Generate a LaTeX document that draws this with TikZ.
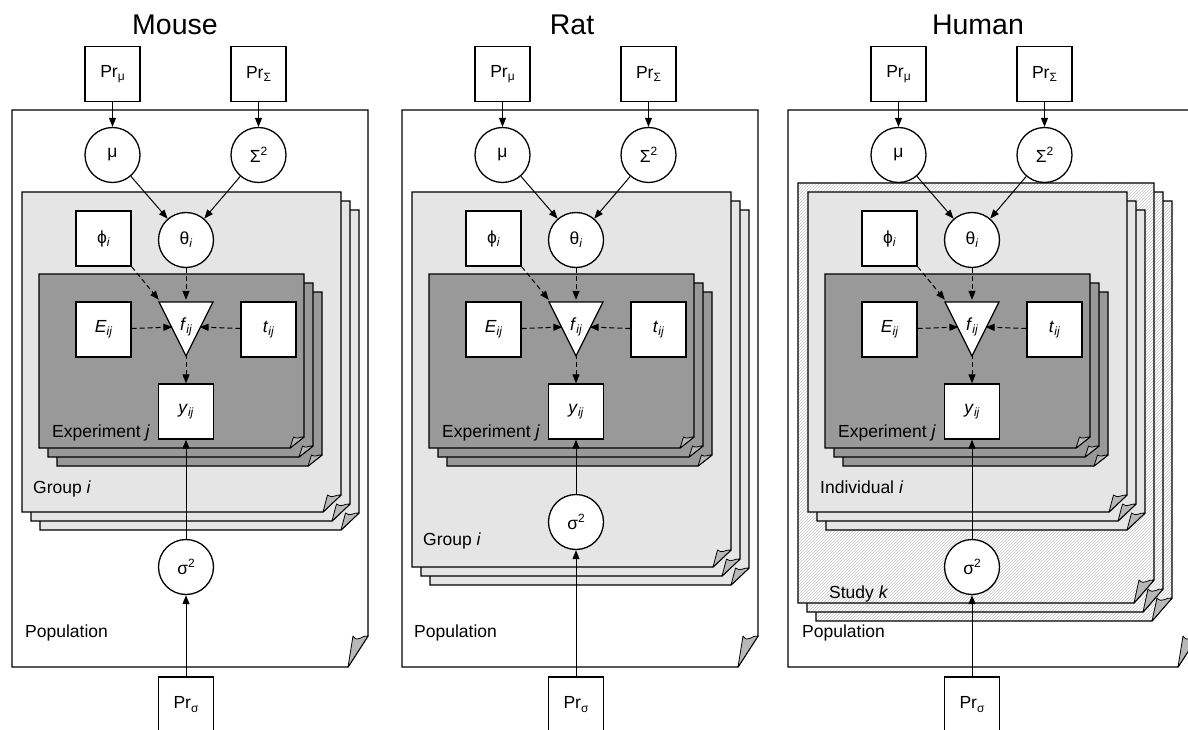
\documentclass[tikz,border=0pt]{standalone}
\usepackage{fontspec}
\setmainfont{Liberation Sans}
\usetikzlibrary{arrows.meta,calc,patterns}

\definecolor{grp}{gray}{0.9}
\definecolor{expt}{gray}{0.6}
\definecolor{flapc}{gray}{0.72}

\newcommand{\lbl}{\fontsize{17.5}{21}\selectfont}
\newcommand{\lo}[1]{\raisebox{-0.35ex}{\fontsize{12}{12}\selectfont #1}}
\newcommand{\hi}[1]{\raisebox{0.75ex}{\fontsize{12}{12}\selectfont #1}}

% one page of a plate, corner turned over at the bottom right
\newcommand{\pagebox}[7]{%
  \draw[plate,#5] (#1,#2) -- (#3,#2) -- (#3,#4-#7) -- (#3-#6,#4) -- (#1,#4) -- cycle;
  \draw[flap] (#3-#6,#4) -- (#3-0.75*#6,#4-#7)
    .. controls (#3-0.5*#6,#4-0.75*#7) and (#3-0.3*#6,#4-1.05*#7) .. (#3,#4-#7) -- cycle;
}
% three pages, back to front
\newcommand{\pagestack}[7]{%
  \foreach \sk in {18,9,0}{\pagebox{#1+\sk}{#2+\sk}{#3+\sk}{#4+\sk}{#5}{#6}{#7}}%
}

\begin{document}
\begin{tikzpicture}[
    x=1pt, y=-1pt,
    plate/.style={draw, line width=1.3pt},
    flap/.style={draw, fill=flapc, line width=0.8pt, line join=round},
    hatch/.style={preaction={fill=white}, pattern=north east lines, pattern color=black!22},
    var/.style={circle, draw, fill=white, line width=1.3pt, minimum size=55pt, inner sep=0pt, font=\lbl},
    obs/.style={rectangle, draw, fill=white, line width=1.3pt, minimum width=55pt, minimum height=55pt, inner sep=0pt, font=\lbl},
    fun/.style={minimum width=54pt, minimum height=54pt, inner sep=0pt, font=\lbl},
    arr/.style={-{Triangle[length=9pt,width=7pt]}, line width=1pt},
    dep/.style={arr, dash pattern=on 5pt off 3pt},
    lab/.style={anchor=base west, inner sep=0pt, font=\lbl},
    title/.style={font=\fontsize{28.5}{34}\selectfont}
]
\clip (0,0) rectangle (1188,730);

% populations
\pagebox{12}{110}{368}{667}{fill=white}{20}{31}
\pagebox{402}{110}{758}{667}{fill=white}{20}{31}
\pagebox{788}{110}{1198}{667}{fill=white}{20}{31}

% studies (human only)
\pagestack{798}{183}{1154}{603}{hatch}{20}{23}

% groups / individuals
\pagestack{22}{192}{341}{512}{fill=grp}{18}{17}
\pagestack{412}{192}{731}{567}{fill=grp}{18}{17}
\pagestack{808}{192}{1127}{512}{fill=grp}{18}{17}

% experiments
\foreach \dx in {0,390,786}{\pagestack{39+\dx}{274}{304+\dx}{448}{fill=expt}{14}{11}}

% titles
\node[title] (tM) at (175,25) {Mouse};
\node[title] (tR) at (572,25) {Rat};
\node[title] (tH) at (978,25) {Human};

% plate labels
\node[lab] (eM) at (52,437) {Experiment \textit{j}};
\node[lab] (eR) at (442,437) {Experiment \textit{j}};
\node[lab] (eH) at (838,437) {Experiment \textit{j}};
\node[lab] (gM) at (33,493) {Group \textit{i}};
\node[lab] (gR) at (423,545) {Group \textit{i}};
\node[lab] (iH) at (820,493) {Individual \textit{i}};
\node[lab] (sH) at (829,598) {Study \textit{k}};
\node[lab] (pM) at (25,637) {Population};
\node[lab] (pR) at (414,637) {Population};
\node[lab] (pH) at (802,637) {Population};

% the same graph in each panel
\foreach \dx/\s/\sy in {0/M/567, 390/R/522, 786/H/567}{
  \begin{scope}[xshift=\dx]
    \node[obs] (Pm\s) at (112.5,74) {Pr\lo{μ}};
    \node[obs] (PS\s) at (258.5,74) {Pr\lo{Σ}};
    \node[var] (mu\s) at (112.5,155) {μ};
    \node[var] (S\s) at (258.5,155) {Σ\hi{2}};
    \node[var] (th\s) at (186,240) {θ\lo{\textit{i}}};
    \node[obs] (ph\s) at (103.5,238.5) {ϕ\lo{\textit{i}}};
    \node[obs] (E\s) at (103.5,329.5) {\textit{E}\lo{\textit{ij}}};
    \node[obs] (t\s) at (268.5,329.5) {\textit{t}\lo{\textit{ij}}};
    \draw[plate, fill=white] (159,302) -- (213,302) -- (186,356) -- cycle;
    \node[fun] (f\s) at (186,327) {\textit{f}\lo{\textit{ij}}};
    \node[obs] (y\s) at (186,411.5) {\textit{y}\lo{\textit{ij}}};
    \node[var] (sg\s) at (186,\sy) {σ\hi{2}};
    \node[obs] (Ps\s) at (186,704.5) {Pr\lo{σ}};
    \coordinate (fl\s) at ($(f\s.north west)!.5!(f\s.south)$);
    \coordinate (fr\s) at ($(f\s.north east)!.5!(f\s.south)$);

    \draw[arr] (Pm\s) -- (mu\s);
    \draw[arr] (PS\s) -- (S\s);
    \draw[arr] (mu\s) -- (th\s);
    \draw[arr] (S\s) -- (th\s);
    \draw[dep] (ph\s.south east) -- (f\s.north west);
    \draw[dep] (th\s) -- (f\s.north);
    \draw[dep] (E\s) -- (fl\s);
    \draw[dep] (t\s) -- (fr\s);
    \draw[dep] (f\s.south) -- (y\s);
    \draw[arr] (sg\s) -- (y\s);
    \draw[arr] (Ps\s) -- (sg\s);
  \end{scope}
}

\end{tikzpicture}
\end{document}
